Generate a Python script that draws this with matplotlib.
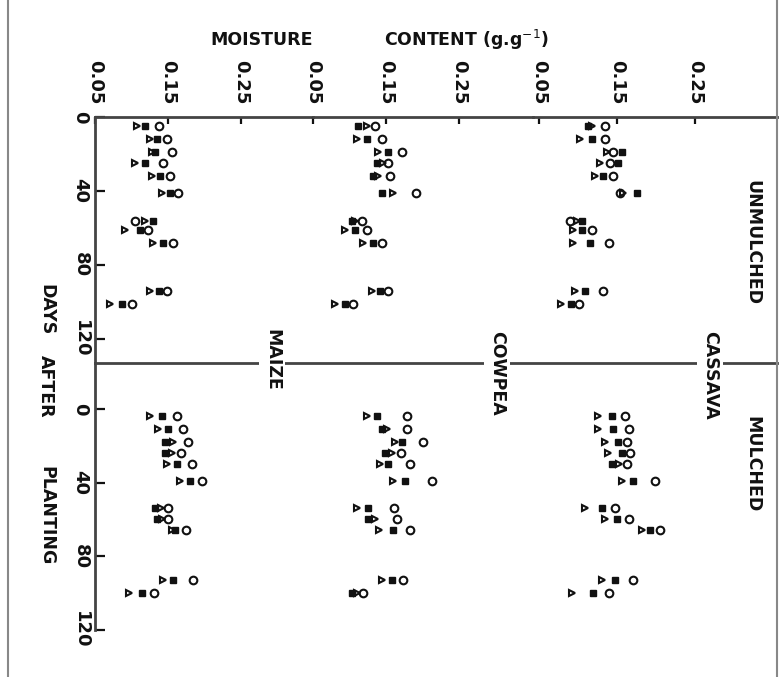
import numpy as np
import matplotlib
matplotlib.use('Agg')
import matplotlib.pyplot as plt
from matplotlib.lines import Line2D

# figure size in pixels
W, H = 783, 677

# sampling days (days after planting)
days_unmulched = [5, 12, 19, 25, 32, 41, 56, 61, 68, 94, 101]
days_mulched = [4, 11, 18, 24, 30, 39, 54, 60, 66, 93, 100]

# moisture content (g/g), unmulched plots
maize_un_tri = [0.108, 0.125, 0.128, 0.105, 0.128, 0.142, 0.118, 0.091, 0.130, 0.125, 0.071]
maize_un_sq = [0.118, 0.135, 0.132, 0.118, 0.139, 0.153, 0.130, 0.112, 0.143, 0.137, 0.087]
maize_un_ci = [0.138, 0.149, 0.155, 0.143, 0.153, 0.164, 0.105, 0.123, 0.157, 0.149, 0.101]

cowpea_un_tri = [0.124, 0.110, 0.139, 0.146, 0.139, 0.160, 0.108, 0.094, 0.119, 0.131, 0.080]
cowpea_un_sq = [0.112, 0.124, 0.153, 0.138, 0.132, 0.145, 0.103, 0.108, 0.132, 0.142, 0.094]
cowpea_un_ci = [0.135, 0.145, 0.172, 0.153, 0.155, 0.191, 0.117, 0.124, 0.145, 0.153, 0.105]

cassava_un_tri = [0.118, 0.103, 0.137, 0.128, 0.122, 0.158, 0.099, 0.094, 0.094, 0.096, 0.078]
cassava_un_sq = [0.113, 0.118, 0.156, 0.151, 0.132, 0.176, 0.105, 0.105, 0.115, 0.109, 0.091]
cassava_un_ci = [0.135, 0.135, 0.145, 0.141, 0.145, 0.154, 0.090, 0.118, 0.140, 0.132, 0.101]

# moisture content (g/g), mulched plots
maize_mu_tri = [0.125, 0.136, 0.157, 0.155, 0.149, 0.166, 0.140, 0.142, 0.155, 0.143, 0.096]
maize_mu_sq = [0.142, 0.150, 0.146, 0.146, 0.162, 0.180, 0.132, 0.135, 0.160, 0.157, 0.114]
maize_mu_ci = [0.162, 0.171, 0.177, 0.168, 0.183, 0.196, 0.150, 0.150, 0.175, 0.184, 0.131]

cowpea_mu_tri = [0.124, 0.151, 0.162, 0.158, 0.142, 0.160, 0.110, 0.135, 0.140, 0.145, 0.110]
cowpea_mu_sq = [0.138, 0.145, 0.172, 0.149, 0.153, 0.176, 0.125, 0.125, 0.160, 0.158, 0.103]
cowpea_mu_ci = [0.179, 0.179, 0.201, 0.171, 0.183, 0.213, 0.161, 0.165, 0.183, 0.173, 0.118]

cassava_mu_tri = [0.126, 0.126, 0.135, 0.139, 0.152, 0.156, 0.109, 0.135, 0.182, 0.131, 0.092]
cassava_mu_sq = [0.144, 0.145, 0.151, 0.156, 0.144, 0.171, 0.131, 0.150, 0.192, 0.147, 0.119]
cassava_mu_ci = [0.160, 0.165, 0.163, 0.167, 0.163, 0.199, 0.147, 0.165, 0.205, 0.171, 0.140]

crops = ['MAIZE', 'COWPEA', 'CASSAVA']
x_ticks = [0.05, 0.15, 0.25]
day_ticks = [0, 40, 80, 120]

unmulched = [(maize_un_tri, maize_un_sq, maize_un_ci),
             (cowpea_un_tri, cowpea_un_sq, cowpea_un_ci),
             (cassava_un_tri, cassava_un_sq, cassava_un_ci)]
mulched = [(maize_mu_tri, maize_mu_sq, maize_mu_ci),
           (cowpea_mu_tri, cowpea_mu_sq, cowpea_mu_ci),
           (cassava_mu_tri, cassava_mu_sq, cassava_mu_ci)]

INK = '#111111'
LINE = '#444444'
FONT = 'DejaVu Sans'


# pixel box -> figure fraction
def px_axes(fig, left, top, width, height):
    return fig.add_axes([left / W, 1 - (top + height) / H, width / W, height / H])


def draw_points(ax, days, tri, sq, ci):
    ax.plot(tri, days, linestyle='none', marker='>', ms=5, mfc='white', mec=INK, mew=1.5, zorder=3)
    ax.plot(sq, days, linestyle='none', marker='s', ms=5, mfc=INK, mec=INK, mew=1, zorder=4)
    ax.plot(ci, days, linestyle='none', marker='o', ms=5.5, mfc='none', mec=INK, mew=1.5, zorder=5)


def day_axis(ax):
    ax.set_yticks(day_ticks)
    ax.set_yticklabels([str(d) for d in day_ticks], rotation=-90, fontsize=13,
                       family=FONT, color=INK, va='center', fontweight='bold')
    ax.tick_params(axis='y', direction='in', length=7, width=1.6, color=INK, pad=4)


fig = plt.figure(figsize=(W / 100, H / 100), dpi=100)
fig.patch.set_facecolor('white')

# column geometry in pixels: left edge, width, x-limits
cols = [(95, 218, (0.05, 0.05 + 218 / 730)),
        (313, 220, (0.05, 0.05 + 220 / 730)),
        (533, 244, (0.15 - 84 / 780, 0.15 - 84 / 780 + 244 / 780))]

top_y, mid_y = 117, 363

for i, (left, width, xlim) in enumerate(cols):
    # unmulched row
    ax = px_axes(fig, left, top_y, width, mid_y - top_y)
    ax.set_xlim(*xlim)
    ax.set_ylim((mid_y - top_y) / 1.85, 0)
    draw_points(ax, days_unmulched, *unmulched[i])
    for s in ['right', 'bottom']:
        ax.spines[s].set_visible(False)
    ax.spines['top'].set_color(LINE)
    ax.spines['top'].set_linewidth(2)
    ax.spines['left'].set_color(LINE)
    ax.spines['left'].set_linewidth(2)
    ax.spines['left'].set_visible(i == 0)
    ax.xaxis.tick_top()
    ax.set_xticks(x_ticks)
    ax.set_xticklabels(['%.2f' % v for v in x_ticks], rotation=-90, fontsize=13,
                       family=FONT, color=INK, fontweight='bold')
    ax.tick_params(axis='x', direction='in', length=5, width=1.6, color=INK, pad=9)
    if i == 0:
        day_axis(ax)
    else:
        ax.set_yticks([])
    ax.patch.set_alpha(0)

    # mulched row
    ax = px_axes(fig, left, mid_y, width, H - mid_y)
    ax.set_xlim(*xlim)
    ax.set_ylim((H - 409) / 1.84, -(409 - mid_y) / 1.84)
    draw_points(ax, days_mulched, *mulched[i])
    for s in ['right', 'bottom', 'top']:
        ax.spines[s].set_visible(False)
    ax.spines['left'].set_visible(i == 0)
    ax.spines['left'].set_color(LINE)
    ax.spines['left'].set_linewidth(2)
    ax.spines['left'].set_bounds(-(409 - mid_y) / 1.84, 120)
    ax.set_xticks([])
    if i == 0:
        day_axis(ax)
    else:
        ax.set_yticks([])
    ax.patch.set_alpha(0)

# divider between the two rows and outer frame
fig.add_artist(Line2D([95 / W, 777 / W], [1 - mid_y / H] * 2, color=LINE, lw=2))
fig.add_artist(Line2D([8 / W, 8 / W], [0, 1], color='#888888', lw=1.5))
fig.add_artist(Line2D([777 / W, 777 / W], [0, 1], color='#888888', lw=1.5))

# crop names sit on the divider line
for name, xc, yc in zip(crops, [272, 497, 710], [360, 373, 375]):
    fig.text(xc / W, 1 - yc / H, name, rotation=-90, ha='center', va='center',
             fontsize=12.5, family=FONT, color=INK, fontweight='bold',
             bbox=dict(facecolor='white', edgecolor='none', pad=3))

# axis titles
title_kw = dict(fontsize=12.5, family=FONT, color=INK, fontweight='bold')
fig.text(262 / W, 1 - 40 / H, 'MOISTURE', ha='center', va='center', **title_kw)
fig.text(466 / W, 1 - 40 / H, 'CONTENT (g.g$^{-1}$)', ha='center', va='center', **title_kw)
for word, yc in zip(['DAYS', 'AFTER', 'PLANTING'], [310, 386, 516]):
    fig.text(46 / W, 1 - yc / H, word, rotation=-90, ha='center', va='center', **title_kw)
fig.text(752 / W, 1 - 242 / H, 'UNMULCHED', rotation=-90, ha='center', va='center',
         **title_kw)
fig.text(752 / W, 1 - 464 / H, 'MULCHED', rotation=-90, ha='center', va='center',
         **title_kw)

fig.savefig('out.png', dpi=100, facecolor='white')
